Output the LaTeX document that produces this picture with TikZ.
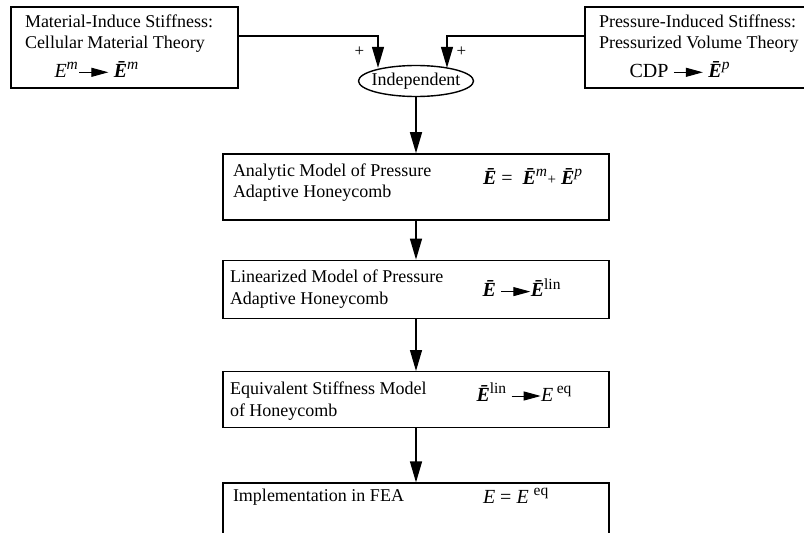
\documentclass[tikz,border=0pt]{standalone}
\usepackage{fontspec}
\setmainfont{Liberation Serif}
\usetikzlibrary{positioning, arrows.meta, shapes.geometric}

\newcommand{\Eb}{{\bfseries\itshape\=E}}
\newcommand{\Ei}{\textit{E}}
\newcommand{\sps}[1]{\raisebox{7.5pt}{\fontsize{15.5}{15.5}\selectfont #1}}
\newcommand{\farrow}{\tikz[baseline=-5pt]\draw[line width=1pt, -{Triangle[length=17pt,width=9pt]}] (0pt,0pt) -- (29pt,0pt);}

\begin{document}
\begin{tikzpicture}[x=1pt, y=-1pt, line width=1.4pt,
	box/.style={draw, rectangle, inner sep=0pt, minimum width=386pt},
	side/.style={draw, rectangle, inner sep=0pt, minimum height=81pt},
	lbl/.style={anchor=base west, inner sep=0pt, align=left, font=\fontsize{18}{21.5}\selectfont},
	fml/.style={anchor=base west, inner sep=0pt, font=\fontsize{20}{22}\selectfont},
	sign/.style={inner sep=0pt, font=\fontsize{17}{17}\selectfont},
	flow/.style={-{Triangle[length=21pt,width=12pt]}}]
	\useasboundingbox (0,0) rectangle (804,533);

	\node[side, minimum width=227pt] (matl) at (124.5,47.5) {};
	\node[side, minimum width=260pt] (pres) at (715,47.5) {};
	\node[draw, ellipse, inner sep=0pt, minimum width=115pt, minimum height=31pt,
		font=\fontsize{18}{21}\selectfont] (indep) at (416,81) {\makebox[60pt]{Independent}};
	\node[box, minimum height=66pt, below=56pt of indep] (anlt) {};
	\node[box, minimum height=58pt, below=39pt of anlt] (linr) {};
	\node[box, minimum height=56pt, below=52pt of linr] (equv) {};
	\node[box, minimum height=90pt, below=54pt of equv] (fea) {};

	% texts in the boxes
	\node[lbl] (matlT) at ([xshift=14pt,yshift=-42.5pt]matl.north west) {Material-Induce Stiffness:\\Cellular Material Theory};
	\node[fml] (matlF) at ([xshift=44pt,yshift=-71pt]matl.north west) {\Ei\sps{\itshape m}\kern1pt\farrow\ \Eb\sps{\itshape m}};
	\node[lbl] (presT) at ([xshift=14pt,yshift=-42.5pt]pres.north west) {Pressure-Induced Stiffness:\\Pressurized Volume Theory};
	\node[fml] (presF) at ([xshift=45pt,yshift=-71pt]pres.north west) {CDP\ \farrow\ \Eb\sps{\itshape p}};

	\node[lbl] (anltT) at ([xshift=10pt,yshift=-44.5pt]anlt.north west) {Analytic Model of Pressure\\Adaptive Honeycomb};
	\node[fml] (anltF) at ([xshift=260pt,yshift=-31pt]anlt.north west) {\Eb\ = \ \Eb\sps{\itshape m}\kern0.5pt{\fontsize{15}{15}\selectfont +}\ \Eb\sps{\itshape p}};
	\node[lbl] (linrT) at ([xshift=7pt,yshift=-44.5pt]linr.north west) {Linearized Model of Pressure\\Adaptive Honeycomb};
	\node[fml] (linrF) at ([xshift=260pt,yshift=-37pt]linr.north west) {\Eb\ \farrow\Eb\sps{lin}};
	\node[lbl] (equvT) at ([xshift=7pt,yshift=-45pt]equv.north west) {Equivalent Stiffness Model\\of Honeycomb};
	\node[fml] (equvF) at ([xshift=254pt,yshift=-30pt]equv.north west) {\Eb\sps{lin}\ \farrow\Ei\,\sps{eq}};
	\node[lbl] (feaT) at ([xshift=10pt,yshift=-19pt]fea.north west) {Implementation in FEA};
	\node[fml] (feaF) at ([xshift=260pt,yshift=-21pt]fea.north west) {\Ei\ = \Ei\ \sps{eq}};

	% connectors
	\draw[flow] ([yshift=11.5pt]matl.east) -| node[sign, pos=0.75, left=13pt] (plusL) {+} ([xshift=-38pt,yshift=-3pt]indep.north);
	\draw[flow] ([yshift=11.5pt]pres.west) -| node[sign, pos=0.75, right=9pt] (plusR) {+} ([xshift=31pt,yshift=-3pt]indep.north);
	\draw[flow] (indep.south) -- (anlt.north);
	\draw[flow] (anlt.south) -- (linr.north);
	\draw[flow] (linr.south) -- (equv.north);
	\draw[flow] (equv.south) -- (fea.north);
\end{tikzpicture}
\end{document}
